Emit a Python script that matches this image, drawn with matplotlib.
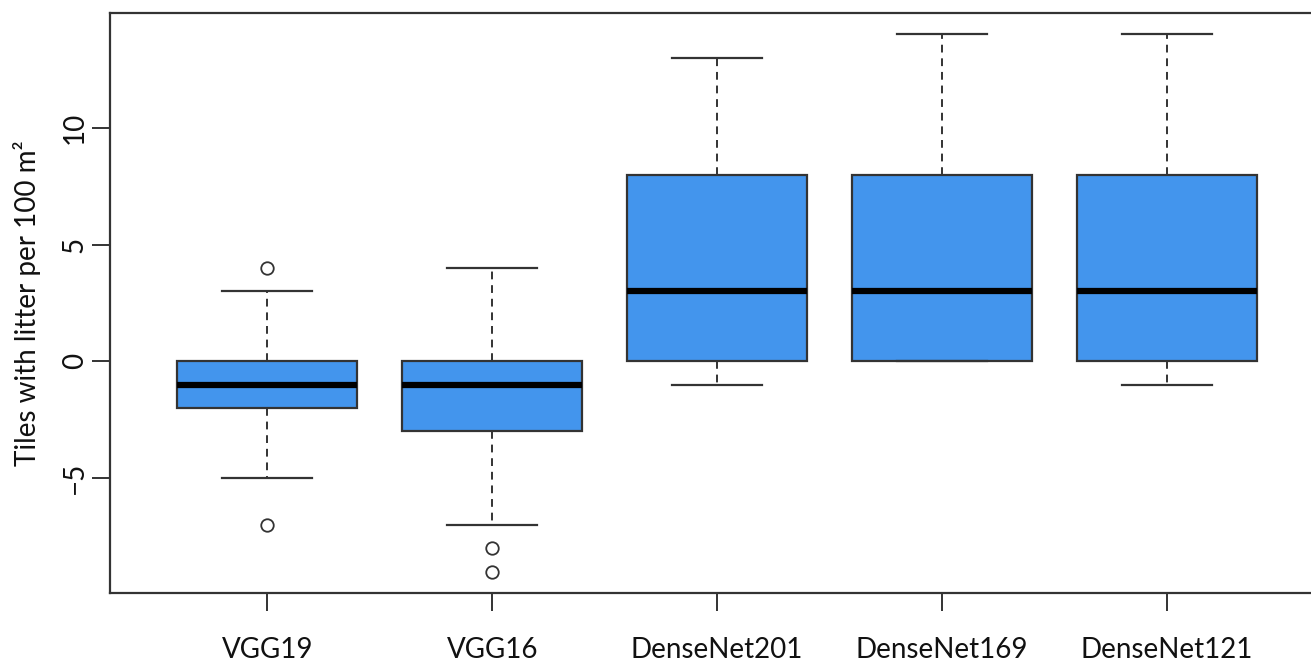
import matplotlib
matplotlib.use("Agg")
import matplotlib.pyplot as plt

# Summary statistics per model (tiles with litter per 100 m²)
models = ["VGG19", "VGG16", "DenseNet201", "DenseNet169", "DenseNet121"]
whisker_low = [-5, -7, -1, 0, -1]
q1 = [-2, -3, 0, 0, 0]
median = [-1, -1, 3, 3, 3]
q3 = [0, 0, 8, 8, 8]
whisker_high = [3, 4, 13, 14, 14]
outliers = [[4, -7], [-8, -9], [], [], []]

box_color = "#4395ED"
edge_color = "#333333"

plt.rcParams["font.family"] = ["Lato", "DejaVu Sans"]

fig = plt.figure(figsize=(13.11, 6.62), dpi=100)
# the plot region runs slightly past the right edge of the figure
ax = fig.add_axes([110 / 1311, 69 / 662, 1214 / 1311, 580 / 662])

stats = []
for i, name in enumerate(models):
    stats.append(dict(label=name, whislo=whisker_low[i], q1=q1[i], med=median[i],
                      q3=q3[i], whishi=whisker_high[i], fliers=outliers[i]))

positions = list(range(1, len(models) + 1))
ax.bxp(stats, positions=positions, widths=0.8, patch_artist=True, showfliers=True,
       boxprops=dict(facecolor=box_color, edgecolor=edge_color, linewidth=1.6),
       medianprops=dict(color="black", linewidth=4.5, solid_capstyle="butt"),
       whiskerprops=dict(color=edge_color, linewidth=1.4, linestyle=(0, (4, 3))),
       capprops=dict(color=edge_color, linewidth=1.6),
       capwidths=0.4,
       flierprops=dict(marker="o", markerfacecolor="none", markeredgecolor=edge_color,
                       markersize=9, markeredgewidth=1.3, linestyle="none"))

ax.set_xlim(0.3, 5.7)
ax.set_ylim(-9.92, 14.92)
ax.set_yticks([-5, 0, 5, 10])
ax.set_yticklabels(["\u22125", "0", "5", "10"], rotation=90, va="center")
ax.set_xticks(positions)
ax.set_xticklabels(models)

ax.tick_params(axis="both", length=13, width=1.4, color=edge_color,
               labelsize=20, labelcolor="#111111")
ax.tick_params(axis="x", pad=19)
ax.tick_params(axis="y", pad=3)

for side in ["top", "bottom", "left", "right"]:
    ax.spines[side].set_linewidth(1.6)
    ax.spines[side].set_color(edge_color)

ax.set_ylabel("Tiles with litter per 100 m\u00b2", fontsize=20, color="#111111", labelpad=15)

fig.savefig("out.png", dpi=100)
